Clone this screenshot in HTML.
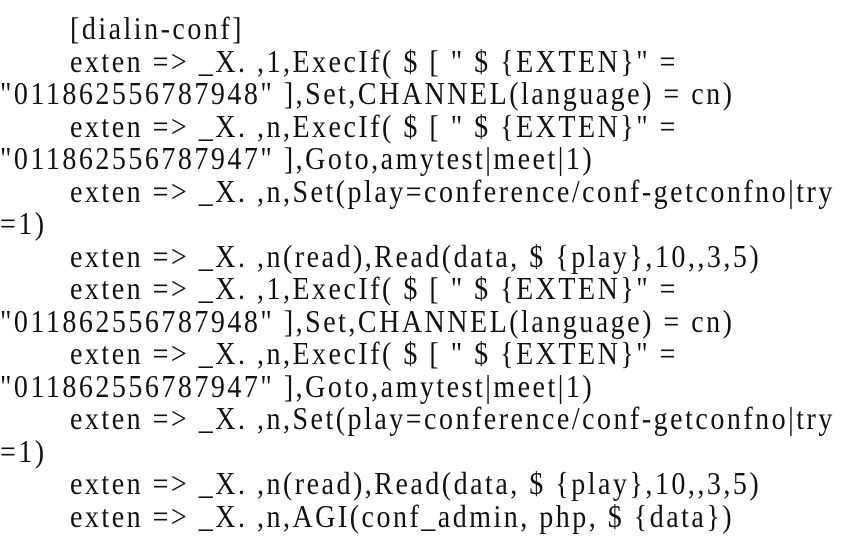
<!DOCTYPE html>
<html><head><meta charset="utf-8"><style>
html,body{margin:0;padding:0;background:#fff;}
body{width:842px;height:554px;position:relative;overflow:hidden;font-family:"Liberation Serif",serif;font-size:28px;color:#111;}
.l{position:absolute;white-space:pre;line-height:30px;letter-spacing:2.5px;transform:scaleY(1.12);transform-origin:0 50%;}
.i{left:70px;}
.c{left:0px;}
</style></head><body>
<div class="l i" style="top:15px">[dialin-conf]</div>
<div class="l i" style="top:48px">exten =&gt; _X. ,1,ExecIf( $ [ " $ {EXTEN}" =</div>
<div class="l c" style="top:80px">"011862556787948" ],Set,CHANNEL(language) = cn)</div>
<div class="l i" style="top:113px">exten =&gt; _X. ,n,ExecIf( $ [ " $ {EXTEN}" =</div>
<div class="l c" style="top:145px">"011862556787947" ],Goto,amytest|meet|1)</div>
<div class="l i" style="top:178px">exten =&gt; _X. ,n,Set(play=conference/conf-getconfno|try</div>
<div class="l c" style="top:210px">=1)</div>
<div class="l i" style="top:243px">exten =&gt; _X. ,n(read),Read(data, $ {play},10,,3,5)</div>
<div class="l i" style="top:275px">exten =&gt; _X. ,1,ExecIf( $ [ " $ {EXTEN}" =</div>
<div class="l c" style="top:308px">"011862556787948" ],Set,CHANNEL(language) = cn)</div>
<div class="l i" style="top:340px">exten =&gt; _X. ,n,ExecIf( $ [ " $ {EXTEN}" =</div>
<div class="l c" style="top:373px">"011862556787947" ],Goto,amytest|meet|1)</div>
<div class="l i" style="top:405px">exten =&gt; _X. ,n,Set(play=conference/conf-getconfno|try</div>
<div class="l c" style="top:438px">=1)</div>
<div class="l i" style="top:470px">exten =&gt; _X. ,n(read),Read(data, $ {play},10,,3,5)</div>
<div class="l i" style="top:503px">exten =&gt; _X. ,n,AGI(conf_admin, php, $ {data})</div>
</body></html>
